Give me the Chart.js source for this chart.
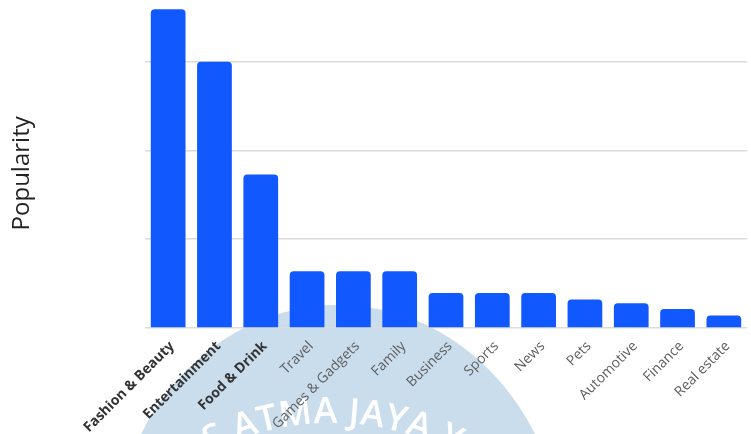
<!DOCTYPE html>
<html>
<head>
<meta charset="utf-8">
<script src="https://cdn.jsdelivr.net/npm/chart.js@4/dist/chart.umd.min.js"></script>
<style>
    html, body { margin: 0; padding: 0; background: #fff; }
    #chart-box { width: 751px; height: 434px; position: relative; }
</style>
</head>
<body>
<div id="chart-box"><canvas id="popularity-plot"></canvas></div>
<script>
let categories = ['Fashion & Beauty', 'Entertainment', 'Food & Drink', 'Travel', 'Games & Gadgets', 'Family',
    'Business', 'Sports', 'News', 'Pets', 'Automotive', 'Finance', 'Real estate']
let popularity = [35.9, 30, 17.3, 6.4, 6.4, 6.4, 3.95, 3.95, 3.95, 3.2, 2.8, 2.15, 1.4]
let y_grid_values = [0, 10, 20, 30]
let bold_count = 3

// faint university seal behind the plot
let watermark_plugin = {
    id: 'watermark',
    beforeDraw(chart) {
        let ctx = chart.ctx
        ctx.save()
        ctx.fillStyle = '#c9dded'
        ctx.beginPath()
        ctx.ellipse(338, 555, 225, 250, 0, 0, Math.PI * 2)
        ctx.fill()

        // arched text, "ATMA JAYA" centred on the top of the arc
        let txt = 'UNIVERSITAS ATMA JAYA YOGYAKARTA'
        let cx = 332, cy = 693, r = 270, gap = 0.5
        ctx.font = "600 36px 'Open Sans', sans-serif"
        ctx.fillStyle = '#ffffff'
        ctx.textAlign = 'center'
        ctx.textBaseline = 'alphabetic'
        let span = (s) => [...s].reduce((t, ch) => t + ctx.measureText(ch).width + gap, 0)
        let a = -Math.PI / 2 - (span('UNIVERSITAS ') + span('ATMA JAYA') / 2) / r
        for (let ch of txt) {
            let w = ctx.measureText(ch).width + gap
            a += (w / 2) / r
            ctx.save()
            ctx.translate(cx + r * Math.cos(a), cy + r * Math.sin(a))
            ctx.rotate(a + Math.PI / 2)
            ctx.fillText(ch, 0, 0)
            ctx.restore()
            a += (w / 2) / r
        }
        ctx.restore()
    }
}

function create_popularity_chart() {
    Chart.defaults.font.family = "'Open Sans', sans-serif"
    Chart.defaults.plugins.legend.display = false
    Chart.defaults.plugins.tooltip.enabled = false

    let ctx = document.getElementById('popularity-plot')
    new Chart(ctx, {
        type: 'bar',
        data: {
            labels: categories,
            datasets: [{
                data: popularity,
                backgroundColor: '#1158fe',
                borderRadius: 4,
                borderSkipped: 'start',
                categoryPercentage: 1,
                barPercentage: 0.75,
            }]
        },
        options: {
            responsive: true,
            maintainAspectRatio: false,
            animation: false,
            layout: { padding: { top: 0, right: 4, left: 0, bottom: 0 } },
            scales: {
                x: {
                    grid: { display: false },
                    border: { display: false },
                    ticks: {
                        autoSkip: false,
                        minRotation: 45,
                        maxRotation: 45,
                        padding: 2,
                        labelOffset: 4,
                        font: (c) => ({ size: 14, weight: c.index < bold_count ? 'bold' : 'normal' }),
                        color: (c) => c.index < bold_count ? '#333' : '#5f5f5f',
                    },
                    afterFit: (s) => { s.height = 106 },
                },
                y: {
                    min: 0,
                    max: 36.95,
                    ticks: { display: false, stepSize: 10 },
                    border: { display: false },
                    grid: {
                        drawTicks: false,
                        lineWidth: 1.5,
                        color: (c) => y_grid_values.includes(c.tick.value) ? '#dcdcdc' : 'rgba(0,0,0,0)',
                    },
                    title: {
                        display: true,
                        text: 'Popularity   ',
                        color: '#222',
                        font: { size: 24 },
                        padding: { top: 8, bottom: 0 },
                    },
                    afterFit: (s) => { s.width = 145 },
                }
            }
        },
        plugins: [watermark_plugin]
    })
}

document.addEventListener('DOMContentLoaded', () => {
    create_popularity_chart()
})
</script>
</body>
</html>
